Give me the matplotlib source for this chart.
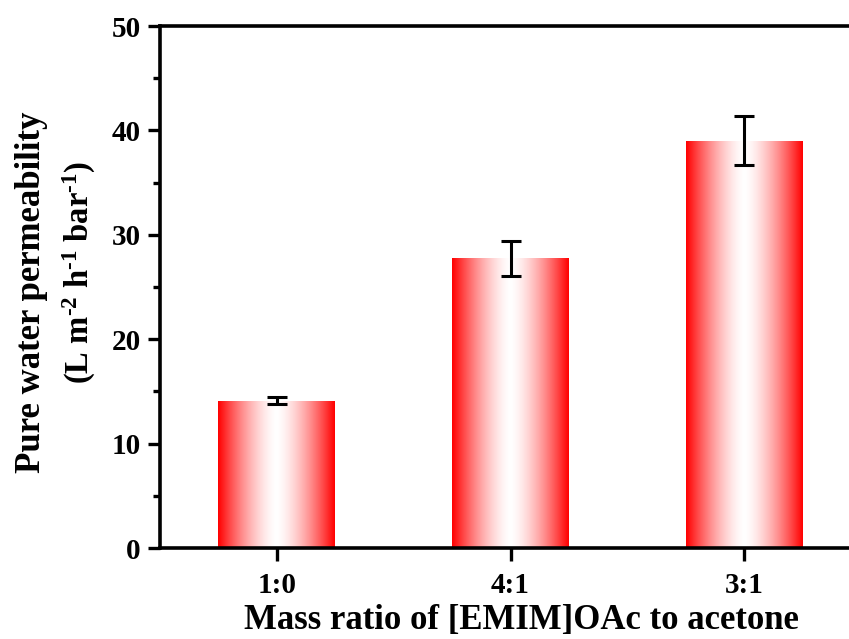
import numpy as np
import matplotlib
matplotlib.use("Agg")
import matplotlib.pyplot as plt
from matplotlib.ticker import MultipleLocator

ratios = ["1:0", "4:1", "3:1"]
permeability = [14.1, 27.75, 39.0]
perm_err = [0.35, 1.66, 2.35]

plt.rcParams['font.family'] = ['Liberation Serif', 'DejaVu Serif']
plt.rcParams['font.weight'] = 'bold'
plt.rcParams['mathtext.fontset'] = 'custom'
plt.rcParams['mathtext.default'] = 'bf'
plt.rcParams['mathtext.bf'] = 'Liberation Serif:bold'
plt.rcParams['mathtext.rm'] = 'Liberation Serif:bold'

fig = plt.figure(figsize=(8.49, 6.39), dpi=100)
ax = fig.add_axes([0.1885, 0.1424, 0.8257, 0.8169])

x = np.arange(1, len(ratios) + 1)
bars = ax.bar(x, permeability, width=0.5, facecolor='none', edgecolor='none', zorder=2)

# red - white - red gradient inside each bar (red only near the edges)
d = np.abs(np.linspace(-1, 1, 256)) ** 1.5
grad = np.ones((1, 256, 3))
grad[0, :, 1] = 1 - d
grad[0, :, 2] = 1 - d
for b in bars:
    x0, y0 = b.get_x(), b.get_y()
    w, h = b.get_width(), b.get_height()
    im = ax.imshow(grad, aspect='auto', extent=[x0, x0 + w, y0, y0 + h],
                   zorder=2, interpolation='bilinear')
    im.set_clip_path(b)

ax.errorbar(x, permeability, yerr=perm_err, fmt='none', ecolor='black',
            elinewidth=2.2, capsize=7, capthick=2.2, zorder=3)

ax.set_xlim(0.5, 3.5)
ax.set_ylim(0, 50)
ax.set_xticks(x)
ax.set_xticklabels(ratios)
ax.yaxis.set_major_locator(MultipleLocator(10))
ax.yaxis.set_minor_locator(MultipleLocator(5))

for s in ax.spines.values():
    s.set_linewidth(2.6)
ax.tick_params(axis='both', which='major', direction='out', length=9, width=2.4,
               labelsize=21, pad=5)
ax.tick_params(axis='x', which='major', pad=8)
ax.tick_params(axis='y', which='minor', direction='out', length=5, width=2.4)
ax.tick_params(axis='x', which='minor', bottom=False)

ax.set_xlabel("Mass ratio of [EMIM]OAc to acetone", fontsize=25, fontweight='bold')
ax.xaxis.set_label_coords(0.515, -0.108)

# y label, two lines placed separately
ax.text(-0.184, 0.490, "Pure water permeability", transform=ax.transAxes,
        rotation=90, ha='center', va='center', fontsize=25, fontweight='bold')
ax.text(-0.1156, 0.527, "(L m$^{\\text{-}2}$ h$^{\\text{-}1}$ bar$^{\\text{-}1}$)",
        transform=ax.transAxes, rotation=90, ha='center', va='center',
        fontsize=23.5, fontweight='bold')

fig.savefig("out.png", dpi=100)
